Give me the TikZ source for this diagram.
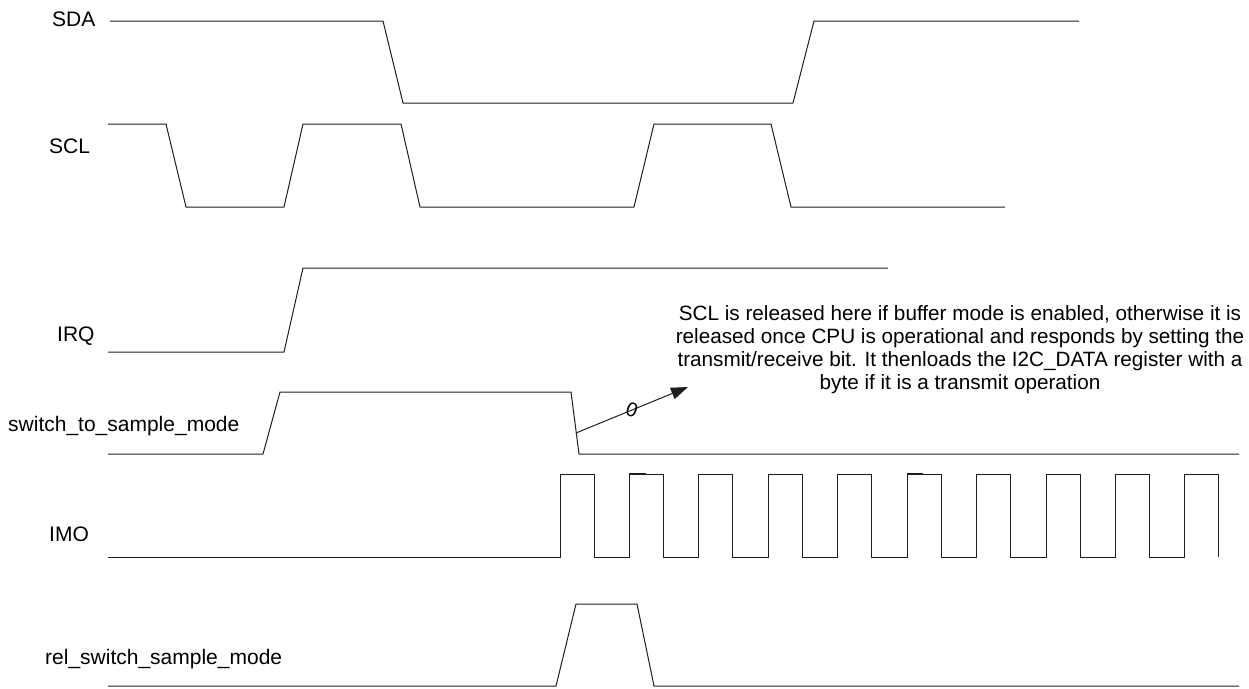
\documentclass[tikz,border=0pt]{standalone}
\usepackage{fontspec}
\setmainfont{Liberation Sans}
\usepackage{tikz}
\usetikzlibrary{arrows.meta}
\definecolor{Trace}{HTML}{1E1E1E}

\begin{document}
\begin{tikzpicture}[x=1pt,y=-1pt,
  wave/.style={draw=Trace,line width=1pt},
  siglabel/.style={anchor=base west,inner sep=0pt,font=\fontsize{21}{23}\selectfont}]
  \useasboundingbox (0,0) rectangle (1249,688);
  \node[siglabel] (sda) at (52,26) {SDA};
  \node[siglabel] (scl) at (49,153) {SCL};
  \node[siglabel] (irq) at (57,341) {IRQ};
  \node[siglabel] (swmode) at (8,431) {switch\_to\_sample\_mode};
  \node[siglabel] (imo) at (49,541) {IMO};
  \node[siglabel] (relsw) at (45,664) {rel\_switch\_sample\_mode};
  \draw[wave] (110,21) -- (383,21) -- (403,103) -- (793,103) -- (814,21) -- (1079,21);
  \draw[wave] (108,124) -- (166,124) -- (186,207) -- (284,207) -- (303,124) -- (401,124) -- (420,207) -- (634,207) -- (654,124) -- (771,124) -- (791,207) -- (1005,207);
  \draw[wave] (108,352) -- (284,352) -- (303,268) -- (888,268);
  \draw[wave] (108,454) -- (263,454) -- (280,392) -- (571,392) -- (579,454) -- (1239,454);
  \draw[wave] (108,557) \foreach \k in {0,...,9} { -- ({560+69.44*\k},557) -- ++(0,-83) -- ++(34,0) -- ++(0,83) };
  \draw[draw=Trace,line width=2pt] (629,474) -- (646,474);
  \draw[draw=Trace,line width=2pt] (907,474) -- (923,474);
  \draw[wave] (108,686) -- (556,686) -- (576,604) -- (637,604) -- (654,686) -- (1239,686);
  \node[anchor=north,inner sep=0pt,align=center,font=\fontsize{20.7}{23}\selectfont] (note) at (960,305)
    {SCL is released here if buffer mode is enabled, otherwise it is\\
     released once CPU is operational and responds by setting the\\
     transmit/receive bit. It thenloads the I2C\_DATA register with a\\
     byte if it is a transmit operation};
  \coordinate (fallpt) at (576,433);
  \coordinate (tip) at (688,387);
  \draw[draw=Trace,line width=1pt,-{Triangle[length=17pt,width=12pt]}] (fallpt) -- node[pos=0.5,rotate=-20,inner sep=0pt,font=\fontsize{20}{23}\selectfont] {0} (tip);
\end{tikzpicture}
\end{document}
